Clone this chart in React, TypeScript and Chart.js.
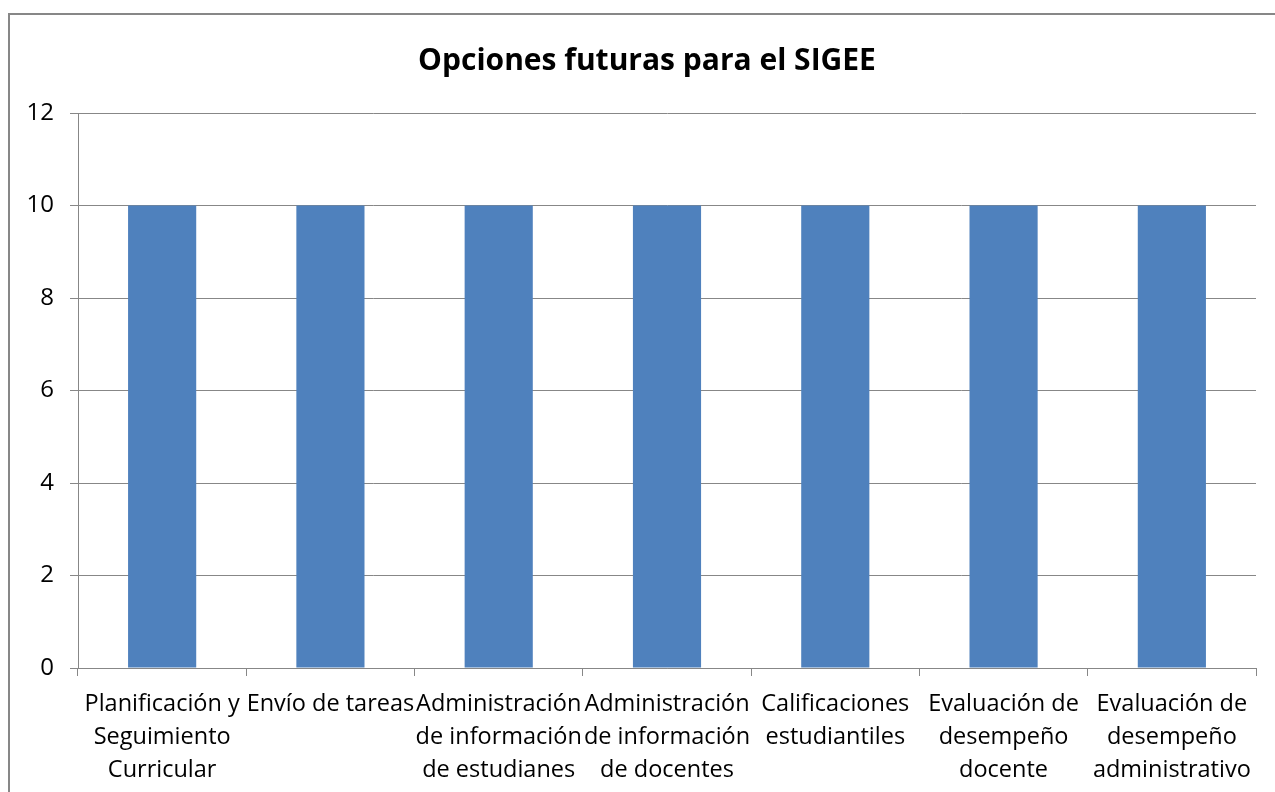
import React, { useEffect, useRef } from "react";
import { Chart, registerables } from "chart.js";

Chart.register(...registerables);

const categories: string[][] = [
  ["Planificación y", "Seguimiento", "Curricular"],
  ["Envío de tareas"],
  ["Administración", "de información", "de estudianes"],
  ["Administración", "de información", "de docentes"],
  ["Calificaciones", "estudiantiles"],
  ["Evaluación de", "desempeño", "docente"],
  ["Evaluación de", "desempeño", "administrativo"],
];
const values: number[] = [10, 10, 10, 10, 10, 10, 10];
const yTicks: number[] = [0, 2, 4, 6, 8, 10, 12];
const chartTitle = "Opciones futuras para el SIGEE";

const FONT = "'Open Sans', Lato, sans-serif";
const GRID = "#878787";

const titlePlugin = {
  id: "customTitle",
  afterDraw(chart: any) {
    const ctx = chart.ctx;
    ctx.save();
    ctx.font = `bold 30px ${FONT}`;
    ctx.fillStyle = "#000000";
    ctx.textAlign = "center";
    ctx.textBaseline = "middle";
    ctx.fillText(chartTitle, chart.width / 2, 61);
    ctx.restore();
  },
};

export default function App() {
  const ref = useRef<HTMLCanvasElement | null>(null);

  useEffect(() => {
    if (!ref.current) return;
    const chart = new Chart(ref.current, {
      type: "bar",
      data: {
        labels: categories,
        datasets: [
          {
            data: values,
            backgroundColor: "#4F81BD",
            borderWidth: 0,
            categoryPercentage: 1,
            barPercentage: 0.405,
          },
        ],
      },
      plugins: [titlePlugin],
      options: {
        animation: false,
        responsive: false,
        maintainAspectRatio: false,
        layout: { padding: { top: 113, left: 0, right: 29, bottom: 0 } },
        plugins: {
          legend: { display: false },
          title: { display: false },
          tooltip: { enabled: false },
        },
        scales: {
          x: {
            offset: true,
            grid: {
              offset: true,
              drawOnChartArea: false,
              drawTicks: true,
              tickLength: 8,
              color: GRID,
            },
            border: { color: GRID, width: 1 },
            ticks: {
              autoSkip: false,
              maxRotation: 0,
              minRotation: 0,
              padding: 12,
              color: "#000000",
              font: { family: FONT, size: 23.5, lineHeight: 1.4 },
            },
            afterFit(scale: any) {
              scale.height = 124;
            },
          },
          y: {
            min: 0,
            max: 12,
            afterBuildTicks(scale: any) {
              scale.ticks = yTicks.map((v) => ({ value: v }));
            },
            grid: {
              color: GRID,
              drawTicks: true,
              tickLength: 8,
            },
            border: { color: GRID, width: 1 },
            ticks: {
              padding: 16,
              color: "#000000",
              font: { family: FONT, size: 24 },
            },
            afterFit(scale: any) {
              scale.width = 69;
            },
          },
        },
      },
    });
    return () => chart.destroy();
  }, []);

  return (
    <div
      style={{
        position: "fixed",
        left: 0,
        top: 0,
        width: 1275,
        height: 792,
        background: "#ffffff",
        overflow: "hidden",
      }}
    >
      <div
        style={{
          position: "absolute",
          left: 8,
          top: 13,
          width: 1400,
          height: 900,
          borderTop: "2px solid #878787",
          borderLeft: "2px solid #878787",
        }}
      />
      <canvas
        ref={ref}
        width={1276}
        height={792}
        style={{ position: "absolute", left: 9, top: 0, width: 1276, height: 792 }}
      />
    </div>
  );
}
